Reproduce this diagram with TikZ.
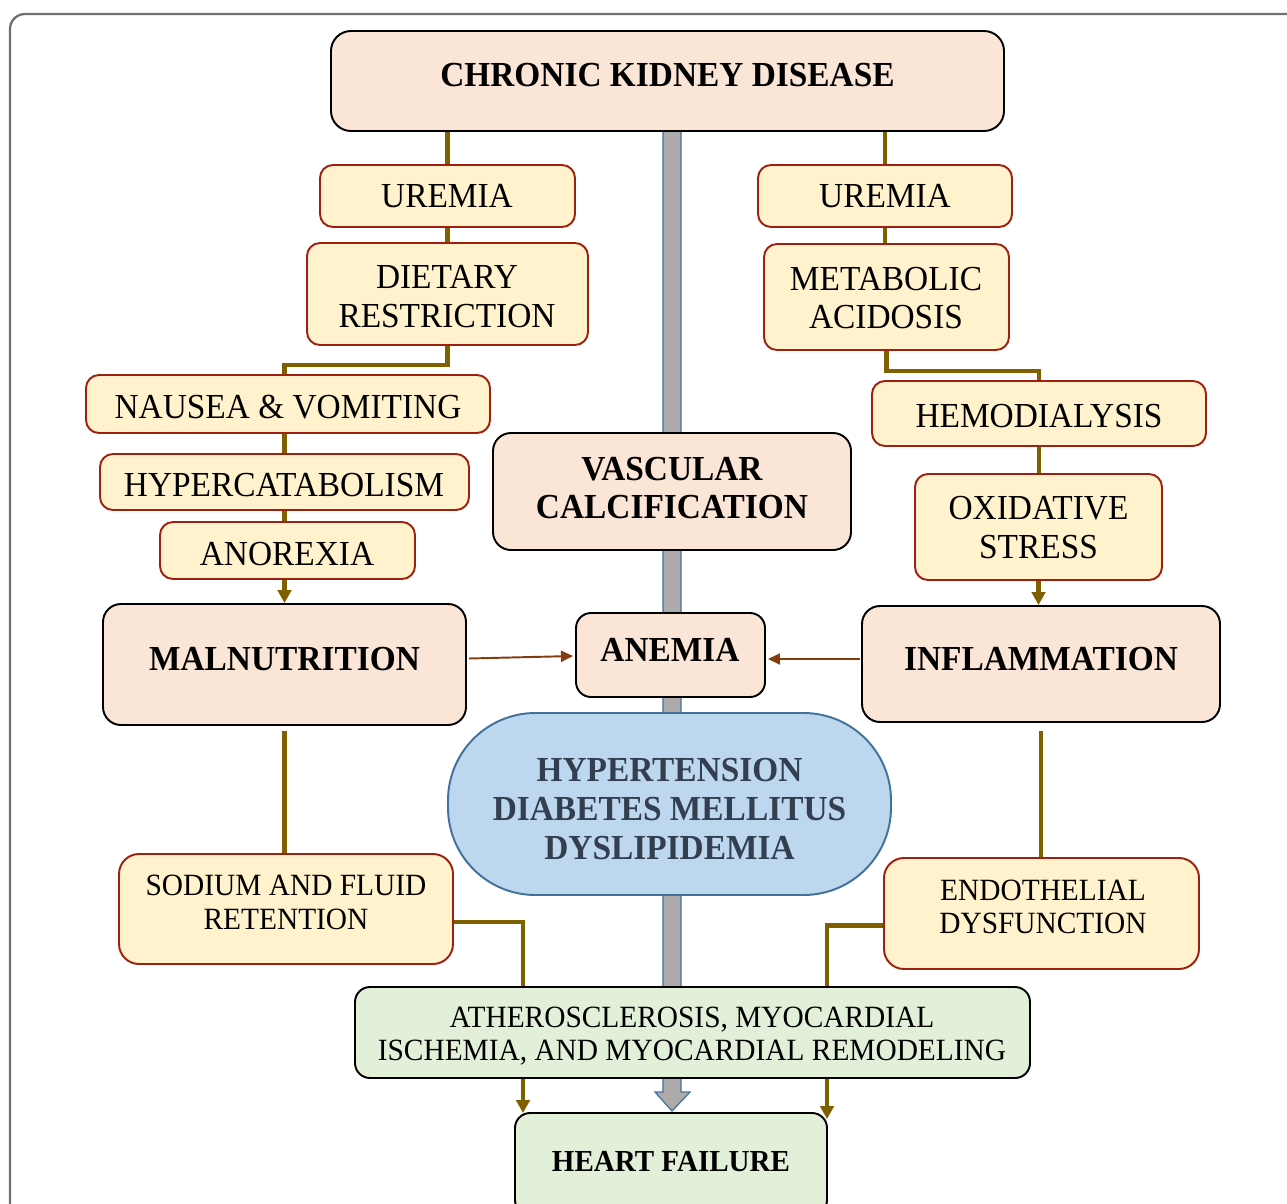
\documentclass[tikz,border=0pt]{standalone}
\usepackage{fontspec}
\setmainfont{Liberation Serif}[FakeStretch=0.95]
\usetikzlibrary{fit,calc,arrows.meta}
\definecolor{peach}{HTML}{FBE5D6}
\definecolor{yel}{HTML}{FFF2CC}
\definecolor{yelborder}{HTML}{A0200F}
\definecolor{grn}{HTML}{E2F0D9}
\definecolor{blu}{HTML}{BDD7EE}
\definecolor{bluborder}{HTML}{41719C}
\definecolor{olive}{HTML}{7F6000}
\definecolor{rust}{HTML}{843C0C}
\definecolor{shaft}{HTML}{AEAAAA}
\definecolor{slate}{HTML}{333F50}
\definecolor{framec}{HTML}{707070}
\pgfdeclarelayer{canvas}
\pgfdeclarelayer{background}
\pgfsetlayers{canvas,background,main}
\tikzset{
  boxbase/.style={draw, inner sep=0pt, line width=1.1pt},
  pbox/.style={boxbase, fill=peach, draw=black, rounded corners=0.36cm},
  ybox/.style={boxbase, fill=yel, draw=yelborder, rounded corners=0.26cm},
  gbox/.style={boxbase, fill=grn, draw=black, rounded corners=0.3cm},
  bbox/.style={boxbase, fill=blu, draw=bluborder, rounded corners=1.75cm},
  txt/.style={align=center, inner sep=0pt, font=\fontsize{20}{22.1}\selectfont},
  btxt/.style={align=center, inner sep=0pt, font=\fontsize{20}{22.1}\selectfont\bfseries},
  stxt/.style={align=center, inner sep=0pt, font=\fontsize{17.6}{19}\selectfont},
  conn/.style={draw=olive, line width=2.4pt},
  connarrow/.style={conn, -{Triangle[width=0.27cm,length=0.26cm]}},
  redarrow/.style={draw=rust, line width=1.1pt, -{Triangle[width=0.22cm,length=0.24cm]}},
  bigarrow/.style={draw=bluborder, fill=shaft, line width=0.7pt, line join=miter}
}
\begin{document}
\begin{tikzpicture}[x=0.02cm, y=-0.02cm]
\useasboundingbox (0,0) rectangle (1287,1203);
\begin{pgfonlayer}{canvas}
\fill[white] (0,0) rectangle (1287,1203);
\draw[framec, line width=1.3pt, rounded corners=0.3cm] (1300,14) -- (10,14) -- (10,1220);
\end{pgfonlayer}

% boxes
\node[pbox, fit={(331,31) (1004,131)}, rounded corners=0.4cm] (ckd) {};
\node[ybox, fit={(320,165) (575,227)}] (ur1) {};
\node[ybox, fit={(307,243) (588,345)}] (diet) {};
\node[ybox, fit={(86,375) (490,433)}] (naus) {};
\node[ybox, fit={(100,454) (469,510)}] (hyp) {};
\node[ybox, fit={(160,522) (415,579)}] (anor) {};
\node[pbox, fit={(103,604) (466,725)}] (maln) {};
\node[ybox, fit={(758,165) (1012,227)}] (ur2) {};
\node[ybox, fit={(764,244) (1009,350)}] (meta) {};
\node[ybox, fit={(872,381) (1206,446)}] (hemo) {};
\node[ybox, fit={(915,474) (1162,580)}] (oxi) {};
\node[pbox, fit={(862,606) (1220,722)}] (infl) {};
\node[pbox, fit={(493,433) (851,550)}] (vasc) {};
\node[pbox, fit={(576,613) (765,697)}, rounded corners=0.3cm] (anem) {};
\node[bbox, fit={(448,713) (891,895)}] (htn) {};
\node[ybox, fit={(119,854) (453,964)}, rounded corners=0.4cm] (sod) {};
\node[ybox, fit={(884,858) (1199,969)}, rounded corners=0.4cm] (endo) {};
\node[gbox, fit={(355,987) (1030,1078)}] (ath) {};
\node[gbox, fit={(515,1113) (827,1215)}] (hf) {};

% texts
\node[btxt] (tckd) at (667.5,75) {CHRONIC KIDNEY DISEASE};
\node[txt] (tur1) at (447,196) {UREMIA};
\node[txt] (tdiet) at (447,296.5) {DIETARY\\RESTRICTION};
\node[txt] (tnaus) at (288,407) {NAUSEA \& VOMITING};
\node[txt] (thyp) at (284,485) {HYPERCATABOLISM};
\node[txt] (tanor) at (287,554) {ANOREXIA};
\node[btxt] (tmaln) at (284.5,659) {MALNUTRITION};
\node[txt] (tur2) at (885,196) {UREMIA};
\node[txt] (tmeta) at (886,298) {METABOLIC\\ACIDOSIS};
\node[txt] (themo) at (1039,416) {HEMODIALYSIS};
\node[txt] (toxi) at (1038.5,527.5) {OXIDATIVE\\STRESS};
\node[btxt] (tinfl) at (1041,659) {INFLAMMATION};
\node[btxt] (tvasc) at (672,488) {VASCULAR\\CALCIFICATION};
\node[btxt] (tanem) at (670,650) {ANEMIA};
\node[btxt, text=slate] (thtn) at (669.5,809) {HYPERTENSION\\DIABETES MELLITUS\\DYSLIPIDEMIA};
\node[stxt] (tsod) at (286,902.5) {SODIUM AND FLUID\\RETENTION};
\node[stxt] (tendo) at (1043,907) {ENDOTHELIAL\\DYSFUNCTION};
\node[stxt] (tath) at (692,1036) {ATHEROSCLEROSIS, MYOCARDIAL\\ISCHEMIA, AND MYOCARDIAL REMODELING};
\node[btxt, font=\fontsize{17.4}{19}\selectfont\bfseries] (thf) at (671,1162) {HEART FAILURE};

\coordinate (cx) at (672,0);
\coordinate (lj) at (523,0);
\coordinate (rj) at (827,0);

\begin{pgfonlayer}{background}
% central thick arrow
\draw[bigarrow] ($(ckd.south -| cx)+(-9,0)$) -- ($(hf.north -| cx)+(-9,-20)$) -- ($(hf.north -| cx)+(-17,-20)$)
  -- ($(hf.north -| cx)+(0,-1)$) -- ($(hf.north -| cx)+(18,-20)$) -- ($(hf.north -| cx)+(9,-20)$)
  -- ($(ckd.south -| cx)+(9,0)$);
% left chain
\draw[conn] (ur1.north |- ckd.south) -- (ur1.north);
\draw[conn] (ur1.south) -- (ur1.south |- diet.north);
\draw[conn] (diet.south) -- ++(0,19) -| (hyp.north |- naus.north);
\draw[conn] (hyp.north |- naus.south) -- (hyp.north);
\draw[conn] (hyp.south) -- (hyp.south |- anor.north);
\draw[connarrow] (maln.north |- anor.south) -- (maln.north);
% right chain
\draw[conn] (ur2.north |- ckd.south) -- (ur2.north);
\draw[conn] (ur2.south) -- (ur2.south |- meta.north);
\draw[conn] (meta.south) -- ++(0,20) -| (hemo.north);
\draw[conn] (hemo.south) -- (hemo.south |- oxi.north);
\draw[connarrow] (oxi.south) -- (oxi.south |- infl.north);
% to anemia
\draw[redarrow] ($(maln.east)+(2,-6)$) -- ($(anem.west)+(-2,1)$);
\draw[redarrow] ($(infl.west)+(-1,-5)$) -- ($(anem.east)+(2,4)$);
% lower
\draw[conn] ($(maln.south)+(0,5)$) -- (maln.south |- sod.north);
\draw[conn] ($(infl.south)+(0,8)$) -- (infl.south |- endo.north);
\draw[conn] ($(sod.east)+(0,13)$) -| (ath.north -| lj);
\draw[conn] ($(endo.west)+(0,12)$) -| (ath.north -| rj);
\draw[connarrow] (ath.south -| lj) -- ($(hf.north -| lj)+(0,1)$);
\draw[connarrow] (ath.south -| rj) -- ($(hf.north -| rj)+(0,7)$);
\end{pgfonlayer}
\end{tikzpicture}
\end{document}
